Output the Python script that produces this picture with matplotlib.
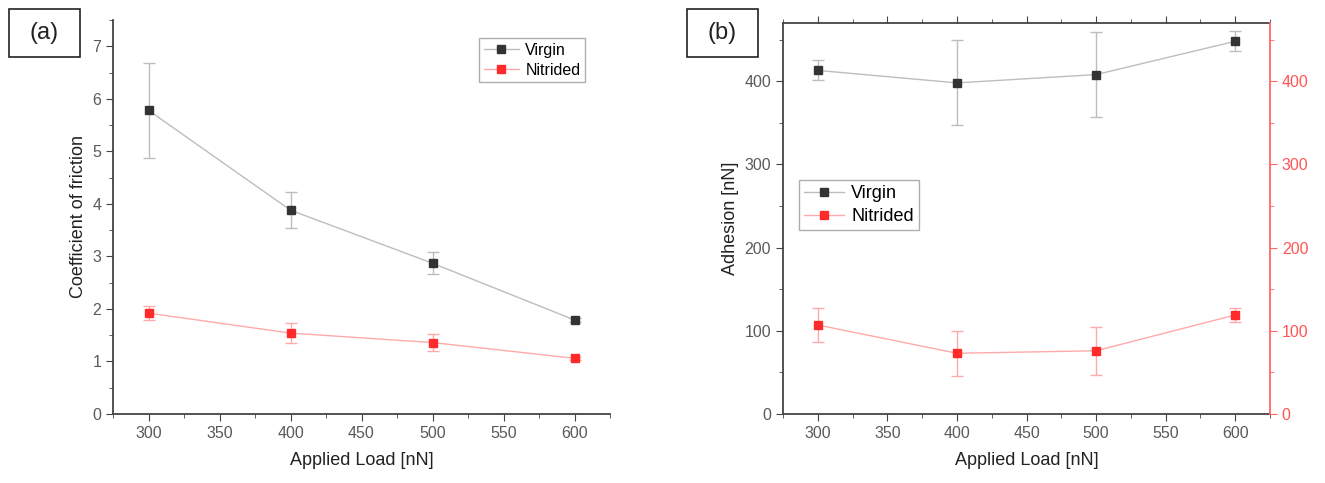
import matplotlib.pyplot as plt
from matplotlib.ticker import MultipleLocator
from matplotlib.patches import Rectangle
from matplotlib.lines import Line2D

plt.rcParams['font.family'] = ['Liberation Sans', 'DejaVu Sans']

load = [300, 400, 500, 600]

cof_virgin = [5.78, 3.88, 2.87, 1.79]
cof_virgin_err = [0.90, 0.34, 0.21, 0.04]
cof_nitrided = [1.92, 1.54, 1.36, 1.06]
cof_nitrided_err = [0.14, 0.19, 0.16, 0.03]

adh_virgin = [413, 398, 408, 448]
adh_virgin_err = [12, 51, 51, 12]
adh_nitrided = [107, 73, 76, 119]
adh_nitrided_err = [21, 27, 29, 9]

W, H = 1325, 483
DARK = '#333333'
GRAY_LINE = '#bdbdbd'
RED = '#ff2a2a'
RED_LINE = '#ffaaaa'
TICK_GRAY = '#5a5a5a'

fig = plt.figure(figsize=(W / 100, H / 100), dpi=100)


def px_axes(x0, y0, x1, y1):
    return fig.add_axes([x0 / W, 1 - y1 / H, (x1 - x0) / W, (y1 - y0) / H])


def series(ax, y, err, col, lcol):
    ax.errorbar(load, y, yerr=err, color=lcol, lw=1.0, marker='s', ms=5.5,
                mfc=col, mec=col, ecolor=lcol, elinewidth=1.0, capsize=4,
                capthick=1.0, zorder=3)


def legend_handles():
    return [Line2D([], [], color=GRAY_LINE, lw=1.0, marker='s', ms=5.5, mfc=DARK, mec=DARK),
            Line2D([], [], color=RED_LINE, lw=1.0, marker='s', ms=5.5, mfc=RED, mec=RED)]


def style_x(ax):
    ax.set_xlim(275, 625)
    ax.xaxis.set_major_locator(MultipleLocator(50))
    ax.xaxis.set_minor_locator(MultipleLocator(25))
    ax.set_xlabel('Applied Load [nN]', fontsize=13, color='#222222', labelpad=8)


def panel_tag(x0, y0, x1, y1, txt):
    fig.add_artist(Rectangle((x0 / W, 1 - y1 / H), (x1 - x0) / W, (y1 - y0) / H,
                             transform=fig.transFigure, fill=False, ec='#222222', lw=1.2))
    fig.text((x0 + x1) / 2 / W, 1 - (y0 + y1) / 2 / H, txt, fontsize=17,
             ha='center', va='center', color='#222222')


def add_legend(ax, x, y, size):
    leg = ax.legend(legend_handles(), ['Virgin', 'Nitrided'], loc='upper left',
                    bbox_to_anchor=(x / W, 1 - y / H), bbox_transform=fig.transFigure,
                    fontsize=size, fancybox=False, edgecolor='#999999',
                    handlelength=2.2, borderpad=0.3, labelspacing=0.3,
                    handletextpad=0.4, borderaxespad=0)
    leg.get_frame().set_linewidth(1.0)


# (a) coefficient of friction
ax1 = px_axes(113, 20, 610, 414)
series(ax1, cof_virgin, cof_virgin_err, DARK, GRAY_LINE)
series(ax1, cof_nitrided, cof_nitrided_err, RED, RED_LINE)
style_x(ax1)
ax1.set_ylim(0, 7.5)
ax1.yaxis.set_major_locator(MultipleLocator(1))
ax1.yaxis.set_minor_locator(MultipleLocator(0.5))
ax1.set_ylabel('Coefficient of friction', fontsize=13, color='#222222')
ax1.spines['top'].set_visible(False)
ax1.spines['right'].set_visible(False)
for s in ['left', 'bottom']:
    ax1.spines[s].set_color('#444444')
    ax1.spines[s].set_linewidth(1.3)
ax1.tick_params(which='both', direction='out', colors='#444444', labelcolor=TICK_GRAY,
                labelsize=11.5)
ax1.tick_params(which='major', length=5)
ax1.tick_params(which='minor', length=3)
add_legend(ax1, 479, 38, 11.5)

# (b) adhesion
ax2 = px_axes(783, 23, 1270, 414)
series(ax2, adh_virgin, adh_virgin_err, DARK, GRAY_LINE)
series(ax2, adh_nitrided, adh_nitrided_err, RED, RED_LINE)
style_x(ax2)
ax2.set_ylim(0, 470)
ax2.yaxis.set_major_locator(MultipleLocator(100))
ax2.yaxis.set_minor_locator(MultipleLocator(50))
ax2.set_ylabel('Adhesion [nN]', fontsize=13, color='#222222')
for s in ['left', 'bottom', 'top']:
    ax2.spines[s].set_color('#444444')
    ax2.spines[s].set_linewidth(1.3)
ax2.spines['right'].set_visible(False)
ax2.tick_params(which='both', direction='out', colors='#444444', labelcolor=TICK_GRAY,
                labelsize=11.5, top=True)
ax2.tick_params(which='major', length=5)
ax2.tick_params(which='minor', length=3)

ax2r = ax2.twinx()
ax2r.set_ylim(0, 470)
ax2r.yaxis.set_major_locator(MultipleLocator(100))
ax2r.yaxis.set_minor_locator(MultipleLocator(50))
for s in ['left', 'bottom', 'top']:
    ax2r.spines[s].set_visible(False)
ax2r.spines['right'].set_color('#ff6666')
ax2r.spines['right'].set_linewidth(1.3)
ax2r.tick_params(which='both', direction='out', colors='#ff6666', labelcolor='#ff5555',
                 labelsize=11.5)
ax2r.tick_params(which='major', length=5)
ax2r.tick_params(which='minor', length=3)

add_legend(ax2, 799, 180, 13)

panel_tag(9, 9, 80, 57, '(a)')
panel_tag(687, 9, 758, 57, '(b)')

fig.savefig('out.png', dpi=100)
